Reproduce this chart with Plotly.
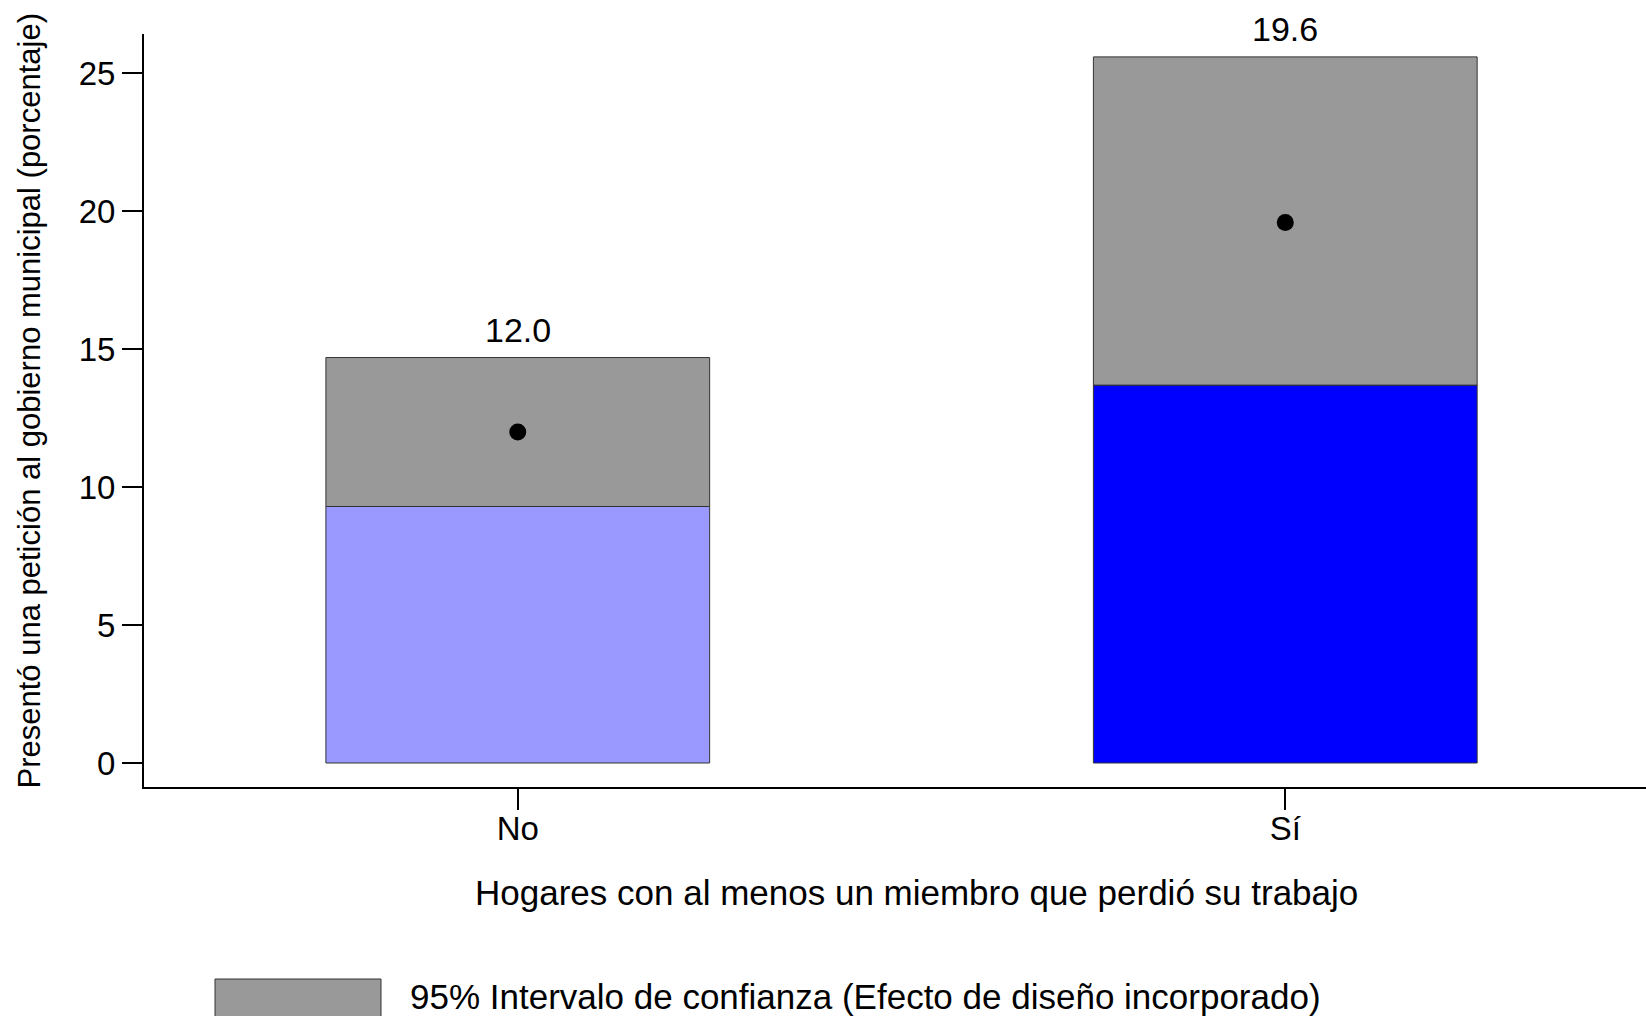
import plotly.graph_objects as go

categories = ["No", "Sí"]
estimates = [12.0, 19.6]
ci_lower = [9.3, 13.7]
ci_upper = [14.7, 25.6]
bar_colors = ["#9999FF", "#0000FF"]
ci_color = "#999999"

y_title = "Presentó una petición al gobierno municipal (porcentaje)"
x_title = "Hogares con al menos un miembro que perdió su trabajo"
legend_text = "95% Intervalo de confianza (Efecto de diseño incorporado)"
y_ticks = [0, 5, 10, 15, 20, 25]

FONT = "Liberation Sans, Arial, sans-serif"

fig = go.Figure()

# lower part (0 -> lower CI)
fig.add_trace(go.Bar(
    x=categories, y=ci_lower, base=[0, 0], width=0.5,
    marker=dict(color=bar_colors, line=dict(color="#333333", width=1)),
    showlegend=False, hoverinfo="skip",
))
# confidence interval band
fig.add_trace(go.Bar(
    x=categories, y=[u - l for u, l in zip(ci_upper, ci_lower)], base=ci_lower, width=0.5,
    marker=dict(color=ci_color, line=dict(color="#333333", width=1)),
    showlegend=False, hoverinfo="skip",
))
# point estimates
fig.add_trace(go.Scatter(
    x=categories, y=estimates, mode="markers",
    marker=dict(color="black", size=17),
    showlegend=False, hoverinfo="skip",
))

annotations = []
for c, e, u in zip(categories, estimates, ci_upper):
    annotations.append(dict(
        x=c, y=u, xref="x", yref="y", text=f"{e:.1f}", showarrow=False,
        yanchor="middle", yshift=28, font=dict(size=34, color="black", family=FONT),
    ))

# y axis title
annotations.append(dict(
    x=0, y=0.5, xref="paper", yref="paper", text=y_title, textangle=-90,
    showarrow=False, xanchor="center", yanchor="middle", xshift=-115, yshift=9,
    font=dict(size=31, color="black", family=FONT),
))
# x axis title
annotations.append(dict(
    x=0.5, y=0, xref="paper", yref="paper", text=x_title,
    showarrow=False, xanchor="center", yanchor="middle", xshift=21, yshift=-105,
    font=dict(size=35, color="black", family=FONT),
))
# legend text
annotations.append(dict(
    x=0, y=0, xref="paper", yref="paper", text=legend_text,
    showarrow=False, xanchor="left", yanchor="middle", xshift=408 - 144, yshift=-(996 - 787),
    font=dict(size=35, color="black", family=FONT),
))

H = 1016
W = 1646
l, r, t, b = 144, 0, 34, 229
ph = H - t - b
pw = W - l - r

def px_to_paper_x(px):
    return (px - l) / pw

def px_to_paper_y(py):
    return (H - b - py) / ph

shapes = [dict(
    type="rect", xref="paper", yref="paper",
    x0=px_to_paper_x(215), x1=px_to_paper_x(381),
    y0=px_to_paper_y(1030), y1=px_to_paper_y(979),
    fillcolor=ci_color, line=dict(color="#333333", width=1), layer="above",
)]

fig.update_layout(
    width=W, height=H,
    margin=dict(l=l, r=r, t=t, b=b, pad=0),
    paper_bgcolor="white", plot_bgcolor="white",
    barmode="overlay",
    font=dict(family=FONT, size=33, color="black"),
    annotations=annotations,
    shapes=shapes,
    xaxis=dict(
        type="category", categoryorder="array", categoryarray=categories,
        range=[-0.487, 1.47], showline=True, linecolor="black", linewidth=2,
        ticks="outside", ticklen=21, tickwidth=1.5, tickcolor="black",
        ticklabelstandoff=-10,
        showgrid=False, zeroline=False,
        tickfont=dict(size=33, family=FONT, color="black"),
    ),
    yaxis=dict(
        range=[-0.87, 26.43], showline=True, linecolor="black", linewidth=2,
        tickvals=y_ticks, ticks="outside", ticklen=20, tickwidth=1.5, tickcolor="black",
        ticklabelstandoff=0,
        showgrid=False, zeroline=False,
        tickfont=dict(size=33, family=FONT, color="black"),
    ),
)

fig.write_html(
    "out.html",
    config={"displayModeBar": False},
    post_script="document.body.style.margin='0';document.body.style.overflow='hidden';",
)
